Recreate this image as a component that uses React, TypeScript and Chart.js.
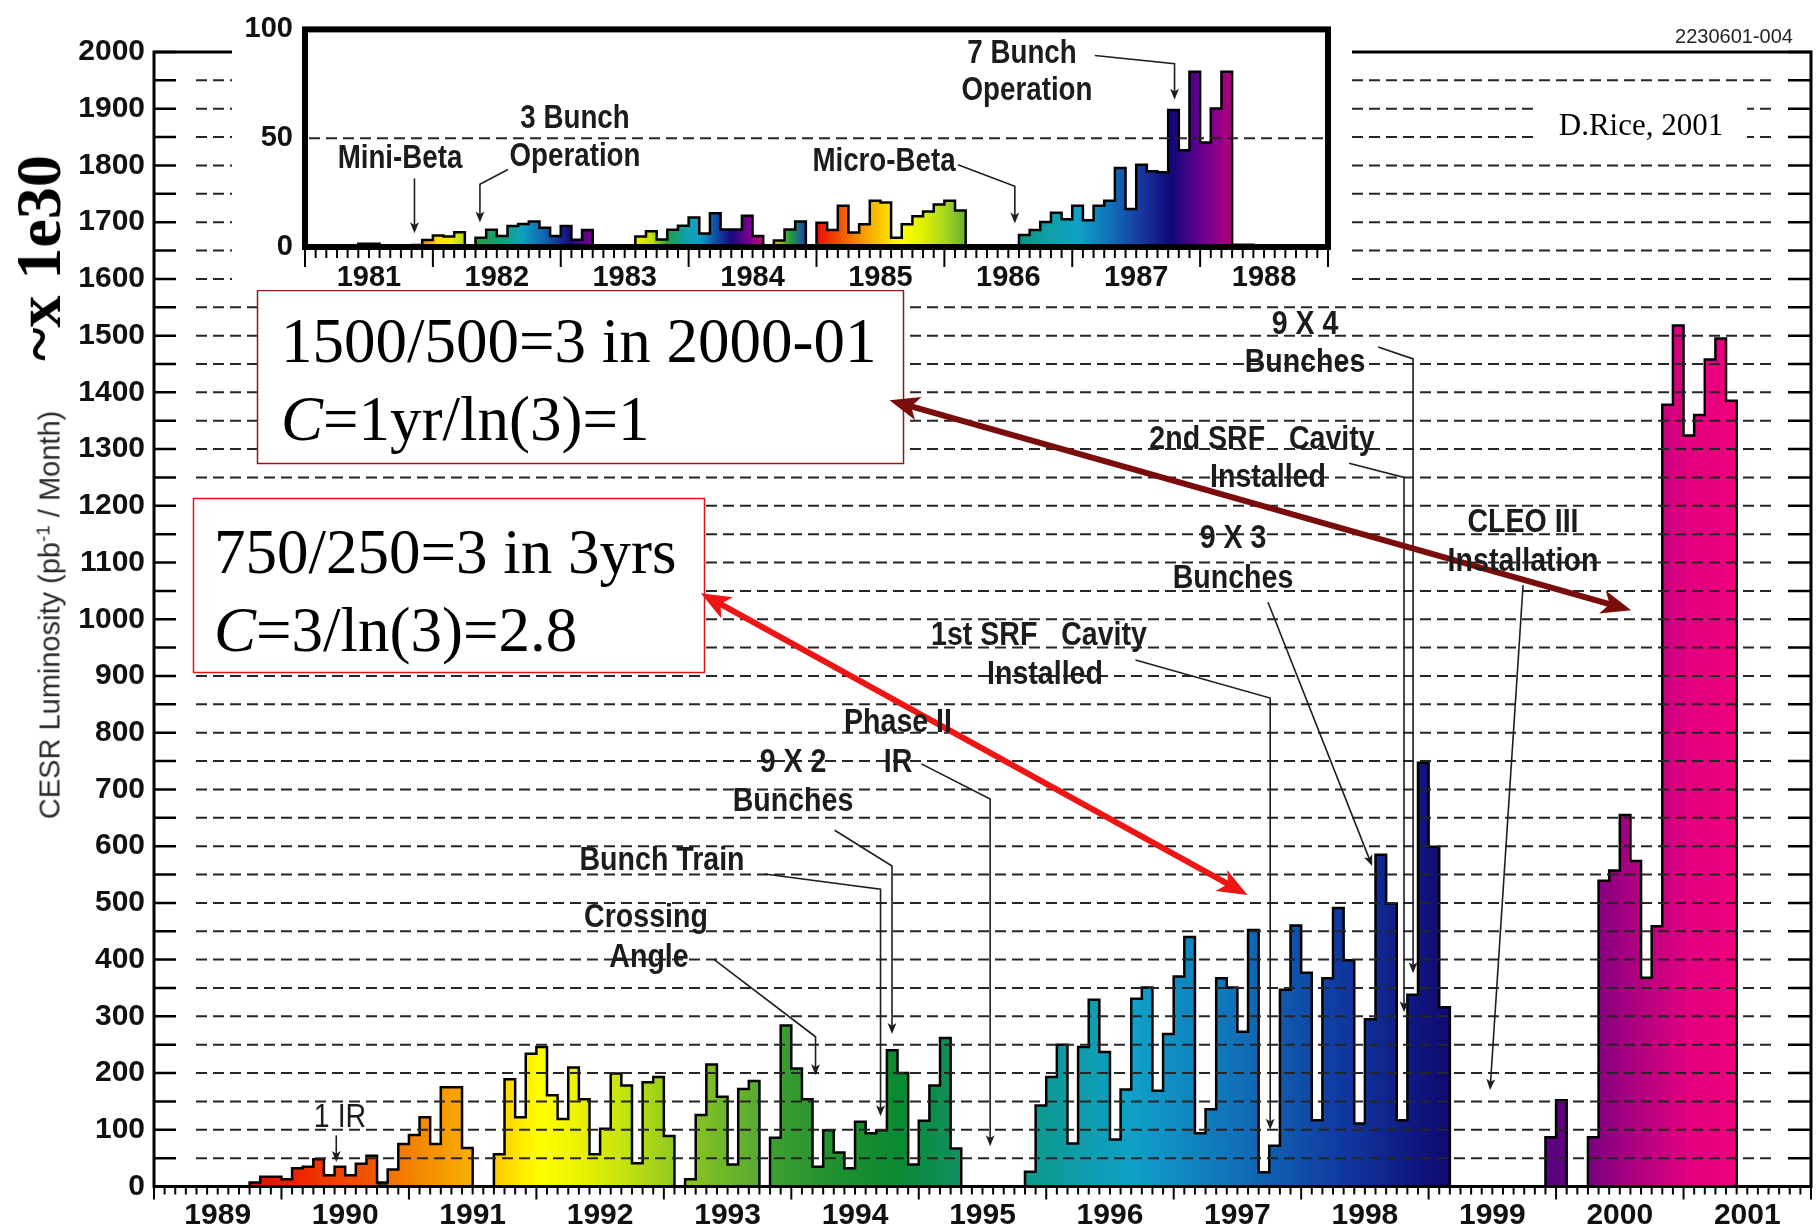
import React, { useEffect, useRef } from 'react';
import { Chart, registerables } from 'chart.js';
Chart.register(...registerables);

const SANS = "'Liberation Sans', Arial, sans-serif";
const SERIF = "'Liberation Serif', 'Times New Roman', serif";

// ---------- main chart data (CESR luminosity, pb^-1 per month, Jan..Dec) ----------
const yearLabels = ['1989', '1990', '1991', '1992', '1993', '1994', '1995', '1996', '1997', '1998', '1999', '2000', '2001'];
const lum1989 = [0, 0, 0, 0, 0, 0, 0, 0, 0, 7, 17, 17];
const lum1990 = [13, 32, 35, 48, 20, 35, 20, 40, 54, 7, 30, 75];
const lum1991 = [91, 122, 75, 175, 175, 68, 0, 0, 57, 189, 122, 234];
const lum1992 = [246, 161, 119, 210, 154, 57, 102, 199, 178, 41, 184, 193];
const lum1993 = [89, 0, 13, 126, 215, 158, 39, 172, 186, 0, 86, 284];
const lum1994 = [208, 154, 35, 99, 60, 32, 114, 94, 99, 240, 200, 39];
const lum1995 = [116, 178, 262, 67, 0, 0, 0, 0, 0, 0, 26, 143];
const lum1996 = [193, 250, 76, 246, 329, 237, 83, 171, 331, 351, 169, 269];
const lum1997 = [370, 440, 94, 136, 367, 351, 273, 452, 25, 72, 347, 460];
const lum1998 = [377, 117, 367, 491, 399, 111, 295, 585, 499, 117, 338, 747];
const lum1999 = [599, 316, 0, 0, 0, 0, 0, 0, 0, 0, 0, 87];
const lum2000 = [152, 0, 0, 87, 539, 557, 655, 574, 368, 459, 1378, 1518];
const lum2001 = [1324, 1360, 1458, 1495, 1385, 0, 0, 0, 0, 0, 0, 0];
const mainMonthly = [lum1989, lum1990, lum1991, lum1992, lum1993, lum1994, lum1995, lum1996, lum1997, lum1998, lum1999, lum2000, lum2001].flat();

// ---------- inset data (1981-1988) ----------
const insetYearLabels = ['1981', '1982', '1983', '1984', '1985', '1986', '1987', '1988'];
const ins1981 = [0, 0, 0, 0, 0.6, 1.5, 1.5, 0, 0, 0, 0.9, 3.2];
const ins1982 = [5.3, 4.8, 6.8, 0, 4.2, 7.9, 5.1, 9.7, 10.6, 11.7, 8.8, 5.1];
const ins1983 = [9.7, 3.3, 7.8, 0.8, 0, 0, 0.8, 4.8, 7.2, 3.5, 7.9, 9.8];
const ins1984 = [13.5, 6.2, 15.5, 8.0, 8.0, 14.4, 5.0, 0, 3.0, 8.0, 11.7, 0];
const ins1985 = [11.1, 7.8, 19, 6.7, 10.5, 21.3, 20.5, 4.3, 10.5, 14.1, 16.3, 19.5];
const ins1986 = [21.3, 16.8, 0, 0, 0, 0, 0, 5.5, 7.8, 11.5, 15.7, 12.7];
const ins1987 = [19, 12.3, 19, 21.3, 36.3, 17.5, 37.8, 34.8, 34.3, 63, 44.5, 80.5];
const ins1988 = [48, 63.6, 80.5, 1, 1, 0, 0, 0, 0, 0, 0, 0];
const insetMonthly = [ins1981, ins1982, ins1983, ins1984, ins1985, ins1986, ins1987, ins1988].flat();

// ---------- colour runs (month index ranges -> gradient colours) ----------
const mainColorRuns = [
  { from: 9, to: 21, colors: ['#e80a00', '#f02000', '#f04000', '#f05a00'] },
  { from: 21, to: 22, colors: ['#303030', '#303030'] },
  { from: 22, to: 30, colors: ['#f07000', '#f59000', '#f8b000'] },
  { from: 32, to: 49, colors: ['#ffc800', '#ffff00', '#e8f000', '#c0e010', '#90c820'] },
  { from: 50, to: 57, colors: ['#90c420', '#70b828', '#58aa30'] },
  { from: 58, to: 76, colors: ['#40a030', '#20902e', '#0a8a32', '#109060'] },
  { from: 82, to: 122, colors: ['#0c9888', '#10a0c8', '#1070b8', '#1038a0', '#100870'] },
  { from: 131, to: 133, colors: ['#5a0080', '#600080'] },
  { from: 135, to: 149, colors: ['#7a0080', '#b00080', '#e00080', '#f0007c'] },
];
const insetColorRuns = [
  { from: 4, to: 5, colors: ['#303030', '#303030'] },
  { from: 5, to: 7, colors: ['#10a0a0', '#2040a0'] },
  { from: 10, to: 15, colors: ['#f04000', '#f89000', '#ffe000', '#f0f000', '#b0d820'] },
  { from: 16, to: 27, colors: ['#20a040', '#10a070', '#10a0c0', '#1060b0', '#180c80', '#800090'] },
  { from: 27, to: 28, colors: ['#303030', '#303030'] },
  { from: 30, to: 31, colors: ['#303030', '#303030'] },
  { from: 31, to: 43, colors: ['#f0f000', '#c8e000', '#20a040', '#10a0a0', '#10a0c8', '#1050a8', '#1a0a80', '#700090', '#d00080'] },
  { from: 44, to: 47, colors: ['#f8c000', '#20a040', '#2040b0'] },
  { from: 48, to: 62, colors: ['#e81000', '#f04a00', '#f59000', '#fac800', '#ffff00', '#e0f000', '#a8d820', '#68b030'] },
  { from: 67, to: 87, colors: ['#109080', '#10a0a8', '#10a0c8', '#1070b8', '#1838a0', '#100878', '#6a0090', '#b0007f'] },
  { from: 87, to: 89, colors: ['#e0007f', '#e0007f'] },
];

// ---------- annotation arrows (data coordinates) ----------
const mainNoteArrows: [number, number][][] = [
  [[1990.43, 90], [1990.43, 43]],
  [[1993.39, 401], [1994.19, 264], [1994.19, 196]],
  [[1993.79, 551], [1994.70, 524], [1994.70, 124]],
  [[1994.34, 628], [1994.79, 565], [1994.79, 269]],
  [[1995.02, 745], [1995.56, 683], [1995.56, 71]],
  [[1996.70, 928], [1997.757, 861], [1997.757, 100]],
  [[1997.74, 1030], [1998.557, 565]],
  [[1998.376, 1275], [1998.807, 1250], [1998.807, 307]],
  [[1998.604, 1480], [1998.878, 1459], [1998.878, 376]],
  [[1999.741, 1060], [1999.482, 170]],
];
const bigArrows = [
  { pts: [[1993.29, 1046], [1997.58, 514]] as [number, number][], color: '#ee1515' },
  { pts: [[1994.77, 1386], [2000.59, 1016]] as [number, number][], color: '#7a0c0c' },
];
const insetNoteArrows: [number, number][][] = [
  [[1981.856, 31.5], [1981.856, 6.3]],
  [[1982.587, 35.6], [1982.368, 28.8], [1982.368, 11.3]],
  [[1986.106, 37.8], [1986.551, 27.9], [1986.551, 10.8]],
  [[1987.177, 88], [1987.80, 84.2], [1987.80, 67.7]],
];

const mainNotes = [
  { t: 'Crossing', x: 646, y: 915 }, { t: 'Angle', x: 649, y: 955 },
  { t: 'Bunch Train', x: 662, y: 858 },
  { t: '9 X 2', x: 793, y: 760 }, { t: 'Bunches', x: 793, y: 799 },
  { t: 'Phase II', x: 898, y: 720 }, { t: 'IR', x: 898, y: 760 },
  { t: '1st SRF   Cavity', x: 1039, y: 633 }, { t: 'Installed', x: 1045, y: 672 },
  { t: '9 X 3', x: 1233, y: 536 }, { t: 'Bunches', x: 1233, y: 576 },
  { t: '2nd SRF   Cavity', x: 1262, y: 437 }, { t: 'Installed', x: 1268, y: 475 },
  { t: '9 X 4', x: 1305, y: 322 }, { t: 'Bunches', x: 1305, y: 360 },
  { t: 'CLEO III', x: 1523, y: 520 }, { t: 'Installation', x: 1523, y: 559 },
];
const insetNotes = [
  { t: 'Mini-Beta', x: 400, y: 156 },
  { t: '3 Bunch', x: 575, y: 116 }, { t: 'Operation', x: 575, y: 154 },
  { t: 'Micro-Beta', x: 884, y: 159 },
  { t: '7 Bunch', x: 1022, y: 51 }, { t: 'Operation', x: 1027, y: 88 },
];

function stepPoints(startYear: number, values: number[]) {
  const pts = values.map((v, i) => ({ x: startYear + i / 12, y: v }));
  pts.push({ x: startYear + values.length / 12, y: 0 });
  return pts;
}

function makeGradient(chart: any, runs: { from: number; to: number; colors: string[] }[], total: number) {
  const x = chart.scales && chart.scales.x;
  if (!x || !chart.chartArea) return '#888';
  const g = chart.ctx.createLinearGradient(x.left, 0, x.right, 0);
  runs.forEach((r) => {
    const n = r.colors.length;
    r.colors.forEach((c, i) => {
      const pos = (r.from + ((r.to - r.from) * i) / (n - 1)) / total;
      g.addColorStop(Math.min(1, Math.max(0, pos)), c);
    });
  });
  return g;
}

function drawArrow(ctx: CanvasRenderingContext2D, pts: { x: number; y: number }[], color: string, width: number, head: number, both: boolean) {
  ctx.save();
  ctx.strokeStyle = color;
  ctx.fillStyle = color;
  ctx.lineWidth = width;
  ctx.lineJoin = 'miter';
  ctx.setLineDash([]);
  const p = pts.map((q) => ({ ...q }));
  const shorten = (tip: any, from: any) => {
    const a = Math.atan2(tip.y - from.y, tip.x - from.x);
    return { x: tip.x - head * 0.6 * Math.cos(a), y: tip.y - head * 0.6 * Math.sin(a) };
  };
  const n = p.length;
  const endTip = p[n - 1];
  const startTip = p[0];
  const lineEnd = shorten(endTip, p[n - 2]);
  const lineStart = both ? shorten(startTip, p[1]) : startTip;
  ctx.beginPath();
  ctx.moveTo(lineStart.x, lineStart.y);
  for (let i = 1; i < n - 1; i++) ctx.lineTo(p[i].x, p[i].y);
  ctx.lineTo(lineEnd.x, lineEnd.y);
  ctx.stroke();
  const headAt = (tip: any, from: any) => {
    const a = Math.atan2(tip.y - from.y, tip.x - from.x);
    const L = head;
    const W = head * 0.4;
    ctx.beginPath();
    ctx.moveTo(tip.x, tip.y);
    ctx.lineTo(tip.x - L * Math.cos(a) + W * Math.sin(a), tip.y - L * Math.sin(a) - W * Math.cos(a));
    ctx.lineTo(tip.x - L * 0.75 * Math.cos(a), tip.y - L * 0.75 * Math.sin(a));
    ctx.lineTo(tip.x - L * Math.cos(a) - W * Math.sin(a), tip.y - L * Math.sin(a) + W * Math.cos(a));
    ctx.closePath();
    ctx.fill();
  };
  headAt(endTip, p[n - 2]);
  if (both) headAt(startTip, p[1]);
  ctx.restore();
}

const mainDecor = {
  id: 'mainDecor',
  afterDatasetsDraw(chart: any) {
    const { ctx, chartArea: a, scales } = chart;
    const x = scales.x;
    const y = scales.y;
    ctx.save();
    // dashed grid lines on top of the bars
    ctx.strokeStyle = '#262626';
    ctx.lineWidth = 2;
    ctx.setLineDash([11, 6]);
    for (let v = 50; v < 2000; v += 50) {
      const py = y.getPixelForValue(v);
      ctx.beginPath();
      ctx.moveTo(a.left + 42, py);
      ctx.lineTo(a.right - 39, py);
      ctx.stroke();
    }
    ctx.setLineDash([]);
    // inward y ticks on both sides
    ctx.strokeStyle = '#000';
    ctx.lineWidth = 2.5;
    for (let v = 0; v <= 2000; v += 50) {
      const py = y.getPixelForValue(v);
      ctx.beginPath();
      ctx.moveTo(a.left, py);
      ctx.lineTo(a.left + 22, py);
      ctx.moveTo(a.right - 23, py);
      ctx.lineTo(a.right, py);
      ctx.stroke();
    }
    // monthly x ticks below the axis
    ctx.lineWidth = 2;
    for (let m = 0; m <= mainMonthly.length; m++) {
      const px = x.getPixelForValue(1989 + m / 12);
      const len = m % 12 === 0 ? 13 : 8;
      ctx.beginPath();
      ctx.moveTo(px, a.bottom);
      ctx.lineTo(px, a.bottom + len);
      ctx.stroke();
    }
    // frame
    ctx.lineWidth = 3;
    ctx.strokeRect(a.left, a.top, a.right - a.left, a.bottom - a.top);
    // white text boxes
    ctx.fillStyle = '#fff';
    ctx.fillRect(1538, 93, 209, 57);
    ctx.fillRect(257, 290, 646, 173);
    ctx.lineWidth = 1.5;
    ctx.strokeStyle = '#8b1a1a';
    ctx.strokeRect(257.5, 290.5, 646, 173);
    ctx.fillStyle = '#fff';
    ctx.fillRect(193, 498, 511, 174);
    ctx.strokeStyle = '#e01515';
    ctx.strokeRect(193.5, 498.5, 511, 174);
    // annotation arrows
    const toPx = (p: [number, number]) => ({ x: x.getPixelForValue(p[0]), y: y.getPixelForValue(p[1]) });
    mainNoteArrows.forEach((path) => drawArrow(ctx, path.map(toPx), '#1e1e1e', 1.6, 11, false));
    bigArrows.forEach((b) => drawArrow(ctx, b.pts.map(toPx), b.color, 6, 30, true));
    ctx.restore();
  },
};

const insetDecor = {
  id: 'insetDecor',
  afterDatasetsDraw(chart: any) {
    const { ctx, chartArea: a, scales } = chart;
    const x = scales.x;
    const y = scales.y;
    ctx.save();
    ctx.strokeStyle = '#262626';
    ctx.lineWidth = 2;
    ctx.setLineDash([11, 6]);
    const py = y.getPixelForValue(50);
    ctx.beginPath();
    ctx.moveTo(a.left + 4, py);
    ctx.lineTo(a.right - 4, py);
    ctx.stroke();
    ctx.setLineDash([]);
    ctx.strokeStyle = '#000';
    ctx.lineWidth = 2;
    for (let m = 0; m <= insetMonthly.length; m++) {
      const px = x.getPixelForValue(1981 + m / 12);
      const len = m % 12 === 0 ? 20 : 11;
      ctx.beginPath();
      ctx.moveTo(px, a.bottom);
      ctx.lineTo(px, a.bottom + len);
      ctx.stroke();
    }
    ctx.lineWidth = 6;
    ctx.strokeRect(a.left, a.top, a.right - a.left, a.bottom - a.top);
    const toPx = (p: [number, number]) => ({ x: x.getPixelForValue(p[0]), y: y.getPixelForValue(p[1]) });
    insetNoteArrows.forEach((path) => drawArrow(ctx, path.map(toPx), '#1e1e1e', 1.6, 11, false));
    ctx.restore();
  },
};

const tickFont = { family: SANS, size: 30, weight: 'bold' as const };
const plainNumber = (v: any) => String(v);

export default function App() {
  const mainRef = useRef<HTMLCanvasElement>(null);
  const insetRef = useRef<HTMLCanvasElement>(null);

  useEffect(() => {
    document.body.style.margin = '0';
    const main = new Chart(mainRef.current!, {
      type: 'line',
      data: {
        datasets: [
          {
            data: stepPoints(1989, mainMonthly),
            stepped: true,
            borderColor: '#000',
            borderWidth: 2.5,
            pointRadius: 0,
            fill: 'origin',
            backgroundColor: (c: any) => makeGradient(c.chart, mainColorRuns, mainMonthly.length),
          },
        ],
      },
      options: {
        animation: false,
        responsive: false,
        devicePixelRatio: 1,
        layout: { padding: { left: 0, right: 5, top: 52, bottom: 0 } },
        plugins: { legend: { display: false }, tooltip: { enabled: false } },
        scales: {
          x: {
            type: 'linear',
            min: 1989,
            max: 2002,
            grid: { display: false, drawTicks: false },
            border: { display: false },
            afterBuildTicks: (s: any) => {
              s.ticks = yearLabels.map((_, i) => ({ value: 1989.5 + i }));
            },
            afterFit: (s: any) => {
              s.height = 43.5;
            },
            ticks: {
              autoSkip: false,
              maxRotation: 0,
              padding: 11,
              color: '#111',
              font: tickFont,
              callback: (_v: any, i: number) => yearLabels[i],
            },
          },
          y: {
            type: 'linear',
            min: 0,
            max: 2000,
            grid: { display: false, drawTicks: false },
            border: { display: false },
            afterFit: (s: any) => {
              s.width = 154;
            },
            ticks: { stepSize: 100, padding: 9, color: '#111', font: tickFont, callback: plainNumber },
          },
        },
      },
      plugins: [mainDecor],
    } as any);

    const inset = new Chart(insetRef.current!, {
      type: 'line',
      data: {
        datasets: [
          {
            data: stepPoints(1981, insetMonthly),
            stepped: true,
            borderColor: '#000',
            borderWidth: 2.5,
            pointRadius: 0,
            fill: 'origin',
            backgroundColor: (c: any) => makeGradient(c.chart, insetColorRuns, insetMonthly.length),
          },
        ],
      },
      options: {
        animation: false,
        responsive: false,
        devicePixelRatio: 1,
        layout: { padding: { left: 0, right: 24, top: 25, bottom: 0 } },
        plugins: { legend: { display: false }, tooltip: { enabled: false } },
        scales: {
          x: {
            type: 'linear',
            min: 1981,
            max: 1989,
            grid: { display: false, drawTicks: false },
            border: { display: false },
            afterBuildTicks: (s: any) => {
              s.ticks = insetYearLabels.map((_, i) => ({ value: 1981.5 + i }));
            },
            afterFit: (s: any) => {
              s.height = 43;
            },
            ticks: {
              autoSkip: false,
              maxRotation: 0,
              padding: 14,
              color: '#111',
              font: { ...tickFont, size: 29 },
              callback: (_v: any, i: number) => insetYearLabels[i],
            },
          },
          y: {
            type: 'linear',
            min: 0,
            max: 100,
            grid: { display: false, drawTicks: false },
            border: { display: false },
            afterFit: (s: any) => {
              s.width = 73;
            },
            ticks: { stepSize: 50, padding: 12, color: '#111', font: { ...tickFont, size: 29 }, callback: plainNumber },
          },
        },
      },
      plugins: [insetDecor],
    } as any);

    return () => {
      main.destroy();
      inset.destroy();
    };
  }, []);

  const note = (n: { t: string; x: number; y: number }, size: number, key: string, weight = 'bold') => (
    <div
      key={key}
      style={{
        position: 'absolute',
        left: n.x,
        top: n.y,
        transform: 'translate(-50%, -50%) scaleX(0.84)',
        font: `${weight} ${size}px ${SANS}`,
        lineHeight: 1,
        color: '#1c1c1c',
        whiteSpace: 'pre',
      }}
    >
      {n.t}
    </div>
  );

  return (
    <div style={{ position: 'relative', width: 1816, height: 1230, background: '#fff', overflow: 'hidden' }}>
      <canvas ref={mainRef} width={1816} height={1230} style={{ position: 'absolute', left: 0, top: 0 }} />
      <canvas ref={insetRef} width={1120} height={290} style={{ position: 'absolute', left: 232, top: 0, background: '#fff' }} />
      {note({ t: '1 IR', x: 340, y: 1115 }, 34, 'ir', 'normal')}
      {mainNotes.map((n, i) => note(n, 34, 'm' + i))}
      {insetNotes.map((n, i) => note(n, 33, 'i' + i))}
      <div style={{ position: 'absolute', left: 281, top: 302, font: `63px ${SERIF}`, lineHeight: '78px', color: '#000', whiteSpace: 'pre' }}>
        <div>1500/500=3 in 2000-01</div>
        <div>
          <i>C</i>=1yr/ln(3)=1
        </div>
      </div>
      <div style={{ position: 'absolute', left: 214, top: 513, font: `63px ${SERIF}`, lineHeight: '78px', color: '#000', whiteSpace: 'pre' }}>
        <div>750/250=3 in 3yrs</div>
        <div>
          <i>C</i>=3/ln(3)=2.8
        </div>
      </div>
      <div style={{ position: 'absolute', left: 1641, top: 124, transform: 'translate(-50%, -50%)', font: `31px ${SERIF}`, lineHeight: 1, color: '#000', whiteSpace: 'pre' }}>
        D.Rice, 2001
      </div>
      <div style={{ position: 'absolute', left: 1734, top: 36, transform: 'translate(-50%, -50%)', font: `20px ${SANS}`, lineHeight: 1, color: '#222', whiteSpace: 'pre' }}>
        2230601-004
      </div>
      <div style={{ position: 'absolute', left: 39, top: 258, transform: 'translate(-50%, -50%) rotate(-90deg)', font: `bold 64px ${SERIF}`, lineHeight: 1, color: '#000', whiteSpace: 'pre' }}>
        ~x 1e30
      </div>
      <div style={{ position: 'absolute', left: 50, top: 615, transform: 'translate(-50%, -50%) rotate(-90deg)', font: `29px ${SANS}`, lineHeight: 1, color: '#2a2a2a', whiteSpace: 'pre' }}>
        CESR Luminosity (pb<sup style={{ fontSize: '0.65em', verticalAlign: '0.55em', lineHeight: 0 }}>-1</sup> / Month)
      </div>
    </div>
  );
}
